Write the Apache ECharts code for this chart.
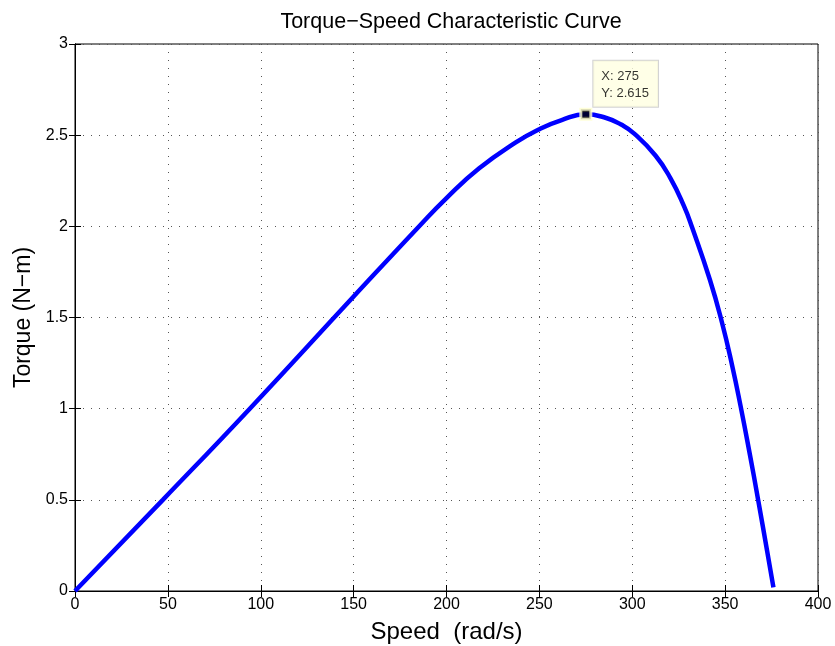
<!DOCTYPE html>
<html>
<head>
<meta charset="utf-8">
<script src="https://cdn.jsdelivr.net/npm/echarts@6/dist/echarts.min.js"></script>
<style>html,body{margin:0;padding:0;background:#fff}#c{width:835px;height:646px}</style>
</head>
<body>
<div id="c"></div>
<script>
var speed  = [0, 47.3, 94.1, 150, 184.8, 200, 217.6, 237.3, 250, 262, 275, 286, 294, 300.9, 312.6, 320.6, 327.8, 332.2, 341.8, 348.2, 353.8, 358.3, 363.3, 367.7, 372.6, 376];
var torque = [0, 0.5, 1.0, 1.615, 1.995, 2.155, 2.318, 2.46, 2.533, 2.583, 2.615, 2.594, 2.558, 2.51, 2.387, 2.263, 2.112, 1.995, 1.707, 1.477, 1.236, 1.015, 0.75, 0.504, 0.22, 0.02];
var tipX = 275, tipY = 2.615;
var xTicks = [0, 50, 100, 150, 200, 250, 300, 350, 400];
var yTicks = [0, 0.5, 1, 1.5, 2, 2.5, 3];
var titleText = 'Torque\u2212Speed Characteristic Curve';
var xName = 'Speed  (rad/s)';
var yName = 'Torque (N\u2212m)';

var FONT = '"Liberation Sans", Arial, Helvetica, sans-serif';
var chart = echarts.init(document.getElementById('c'), null, {renderer: 'canvas'});
var pts = speed.map(function (s, i) { return [s, torque[i]]; });

var gridStyle = {show: true, lineStyle: {color: '#555', type: [1, 7], width: 1}};
chart.setOption({
  animation: false,
  backgroundColor: '#fff',
  title: {text: titleText, left: 446, top: 6, textAlign: 'center',
          textStyle: {fontFamily: FONT, fontSize: 21.5, fontWeight: 'normal', color: '#000'}},
  grid: {left: 75, top: 44, width: 743, height: 547, show: true, borderColor: '#000', borderWidth: 1,
         backgroundColor: '#fff', containLabel: false, outerBoundsMode: 'none'},
  xAxis: [{
    type: 'value', min: xTicks[0], max: xTicks[xTicks.length - 1], interval: 50,
    name: xName, nameLocation: 'middle', nameGap: 29,
    nameTextStyle: {fontFamily: FONT, fontSize: 24, color: '#000'},
    axisLine: {show: true, lineStyle: {color: '#000', width: 1}},
    axisTick: {show: true, inside: true, length: 6, lineStyle: {color: '#000'}},
    axisLabel: {fontFamily: FONT, fontSize: 16, color: '#000', margin: 6},
    splitLine: gridStyle
  }, {
    type: 'value', position: 'top', min: 0, max: 400, interval: 50,
    axisLine: {show: true, lineStyle: {color: '#000', width: 1}},
    axisTick: {show: true, inside: true, length: 6, lineStyle: {color: '#000'}},
    axisLabel: {show: false}, splitLine: {show: false}
  }],
  yAxis: [{
    type: 'value', min: yTicks[0], max: yTicks[yTicks.length - 1], interval: 0.5,
    name: yName, nameLocation: 'middle', nameGap: 36, nameRotate: 90,
    nameTextStyle: {fontFamily: FONT, fontSize: 23, color: '#000'},
    axisLine: {show: true, lineStyle: {color: '#000', width: 1}},
    axisTick: {show: true, inside: true, length: 6, lineStyle: {color: '#000'}},
    axisLabel: {fontFamily: FONT, fontSize: 16, color: '#000', margin: 7},
    splitLine: gridStyle
  }, {
    type: 'value', position: 'right', min: 0, max: 3, interval: 0.5,
    axisLine: {show: true, lineStyle: {color: '#000', width: 1}},
    axisTick: {show: true, inside: true, length: 6, lineStyle: {color: '#000'}},
    axisLabel: {show: false}, splitLine: {show: false}
  }],
  series: [{
    type: 'line', data: pts, smooth: 0.5, showSymbol: false, symbol: 'none',
    lineStyle: {color: '#0000ff', width: 4.5, cap: 'butt'}, z: 3
  }, {
    type: 'scatter', data: [[tipX, tipY]], symbol: 'rect', symbolSize: 10,
    itemStyle: {color: '#000', borderColor: '#ffffd0', borderWidth: 3},
    label: {
      show: true, position: [14, -47],
      formatter: 'X: ' + tipX + '\nY: ' + tipY,
      fontFamily: FONT, fontSize: 13, color: '#000', lineHeight: 17,
      backgroundColor: '#ffffe1', borderColor: '#c8c8c8', borderWidth: 1,
      padding: [7, 9, 5, 8], align: 'left', verticalAlign: 'top'
    },
    z: 5
  }]
});
</script>
</body>
</html>
